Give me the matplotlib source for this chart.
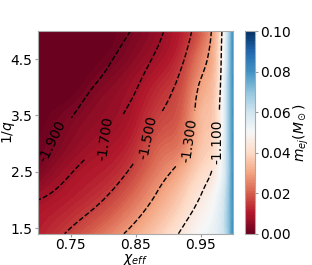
import numpy as np
import matplotlib
matplotlib.use("Agg")
import matplotlib.pyplot as plt
import matplotlib.tri as mtri

# grid nodes
chi_eff = [0.70, 0.75, 0.80, 0.85, 0.90, 0.93, 0.96, 0.98, 0.99, 0.999]
inv_q = [1.4, 2.0, 2.5, 3.0, 3.5, 4.0, 4.5, 5.0]

# contour field (labelled quantity), rows follow inv_q
contour_vals = [
    [-1.59, -1.48, -1.37, -1.26, -1.14, -1.07, -1.00, -0.95, -0.90, -0.80],
    [-1.70, -1.60, -1.50, -1.37, -1.23, -1.14, -1.06, -0.97, -0.90, -0.78],
    [-1.89, -1.71, -1.59, -1.46, -1.31, -1.22, -1.12, -1.02, -0.92, -0.78],
    [-1.94, -1.82, -1.69, -1.55, -1.40, -1.31, -1.17, -1.06, -0.93, -0.80],
    [-2.04, -1.91, -1.78, -1.63, -1.47, -1.36, -1.20, -1.08, -0.93, -0.80],
    [-2.13, -1.99, -1.86, -1.71, -1.53, -1.40, -1.24, -1.10, -0.93, -0.80],
    [-2.25, -2.10, -1.95, -1.78, -1.61, -1.47, -1.30, -1.12, -0.94, -0.80],
    [-2.33, -2.19, -2.04, -1.87, -1.67, -1.53, -1.35, -1.14, -0.95, -0.80],
]

# ejecta mass (colour field), rows follow inv_q
m_ej = [
    [0.011, 0.016, 0.023, 0.031, 0.040, 0.046, 0.052, 0.057, 0.065, 0.080],
    [0.008, 0.011, 0.015, 0.023, 0.033, 0.040, 0.047, 0.055, 0.065, 0.080],
    [0.003, 0.008, 0.011, 0.017, 0.027, 0.034, 0.041, 0.050, 0.062, 0.080],
    [0.001, 0.005, 0.008, 0.013, 0.021, 0.027, 0.037, 0.047, 0.062, 0.080],
    [0.000, 0.003, 0.006, 0.010, 0.017, 0.024, 0.035, 0.045, 0.062, 0.080],
    [0.000, 0.000, 0.004, 0.008, 0.014, 0.021, 0.032, 0.044, 0.062, 0.080],
    [0.000, 0.000, 0.001, 0.005, 0.010, 0.017, 0.028, 0.042, 0.060, 0.080],
    [0.000, 0.000, 0.000, 0.003, 0.008, 0.013, 0.024, 0.040, 0.058, 0.080],
]

contour_levels = [-1.9, -1.7, -1.5, -1.3, -1.1]
label_pos = [(0.720, 3.06), (0.807, 3.06), (0.870, 3.1), (0.934, 3.06), (0.978, 3.04)]
label_rot = [64, 82, 78, 82, 90]
x_ticks = [0.75, 0.85, 0.95]
y_ticks = [1.5, 2.5, 3.5, 4.5]
cbar_ticks = [0.00, 0.02, 0.04, 0.06, 0.08, 0.10]

# structured triangulation in scaled coordinates (x scaled so cells are well shaped)
nx, ny = len(chi_eff), len(inv_q)
U, V = np.meshgrid((np.array(chi_eff) - 0.7) * 10.0, np.array(inv_q))
tris = []
for j in range(ny - 1):
    for i in range(nx - 1):
        a = j * nx + i
        b = a + 1
        c = a + nx
        d = c + 1
        tris.append([a, b, d])
        tris.append([a, d, c])
tri_s = mtri.Triangulation(U.ravel(), V.ravel(), np.array(tris))
refiner = mtri.UniformTriRefiner(tri_s)
M = np.array(m_ej).ravel()
C = np.array(contour_vals).ravel()
iM = mtri.CubicTriInterpolator(tri_s, M, kind='min_E')
iC = mtri.CubicTriInterpolator(tri_s, C, kind='min_E')
tri_r, Mf = refiner.refine_field(M, triinterpolator=iM, subdiv=4)
_, Cf = refiner.refine_field(C, triinterpolator=iC, subdiv=4)
Mf = np.clip(Mf, 0, 0.1)
tri_f = mtri.Triangulation(0.7 + tri_r.x / 10.0, tri_r.y, tri_r.triangles)

plt.rcParams['font.size'] = 10
fig = plt.figure(figsize=(3.12, 2.65), dpi=100)
ax = fig.add_axes([0.122, 0.118, 0.624, 0.765])
cax = fig.add_axes([0.785, 0.118, 0.032, 0.765])

levels = np.linspace(0, 0.1, 101)
cf = ax.tricontourf(tri_f, Mf, levels=levels, cmap='RdBu', vmin=0, vmax=0.1)
cs = ax.tricontour(tri_f, Cf, levels=contour_levels, colors='k',
                   linestyles='--', linewidths=1.0)
texts = ax.clabel(cs, fmt='%1.3f', fontsize=10, inline=True,
                  inline_spacing=8, manual=label_pos)
rot_map = {('%1.3f' % lv): r for lv, r in zip(contour_levels, label_rot)}
for t in texts:
    if t.get_text() in rot_map:
        t.set_rotation(rot_map[t.get_text()])

ax.set_xlim(0.70, 0.999)
ax.set_ylim(1.4, 5.0)
ax.set_xticks(x_ticks)
ax.set_xticklabels(['0.75', '0.85', '0.95'])
ax.set_yticks(y_ticks)
ax.set_yticklabels(['1.5', '2.5', '3.5', '4.5'])
ax.tick_params(axis='y', length=2, pad=2, color='#999999')
ax.tick_params(axis='x', length=2, pad=1, color='#999999')
for s in ax.spines.values():
    s.set_color('#aaaaaa')
ax.set_xlabel(r'$\chi_{eff}$', labelpad=0)
ax.set_ylabel(r'$1/q$')
ax.yaxis.set_label_coords(-0.11, 0.5)

cb = fig.colorbar(cf, cax=cax, ticks=cbar_ticks)
cb.ax.set_yticklabels(['%.2f' % t for t in cbar_ticks])
cb.outline.set_edgecolor('#aaaaaa')
cb.ax.tick_params(length=2, pad=2, color='#999999')
cb.set_label(r'$m_{ej}(M_\odot)$', labelpad=0)

fig.savefig('out.png', dpi=100)
